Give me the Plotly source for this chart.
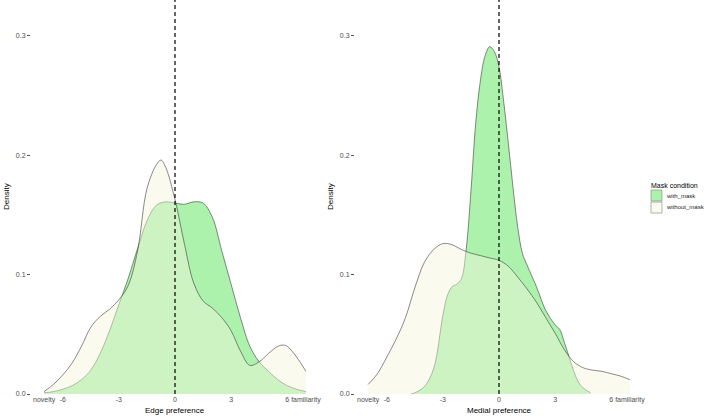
import plotly.graph_objects as go

# ---------------- data ----------------
edge_with_x = [-7, -6.5, -6, -5.5, -5, -4.5, -4, -3.5, -3, -2.5, -2, -1.5, -1, -0.5, 0, 0.5, 1, 1.5, 2, 2.5, 3, 3.5, 4, 4.5, 5, 5.5, 6, 6.5, 7]
edge_with_y = [0.001, 0.002, 0.004, 0.007, 0.012, 0.020, 0.034, 0.053, 0.075, 0.097, 0.122, 0.145, 0.158, 0.161, 0.160, 0.159, 0.161, 0.160, 0.148, 0.120, 0.092, 0.064, 0.040, 0.027, 0.019, 0.012, 0.007, 0.004, 0.002]

edge_without_x = [-7, -6.5, -6, -5.5, -5, -4.5, -4, -3.5, -3, -2.5, -2, -1.5, -1, -0.75, -0.5, 0, 0.5, 1, 1.5, 2, 2.5, 3, 3.5, 4, 4.5, 5, 5.5, 5.8, 6, 6.5, 7]
edge_without_y = [0.002, 0.008, 0.016, 0.026, 0.040, 0.056, 0.065, 0.071, 0.079, 0.091, 0.120, 0.172, 0.192, 0.196, 0.190, 0.163, 0.126, 0.093, 0.078, 0.072, 0.064, 0.053, 0.036, 0.024, 0.027, 0.034, 0.040, 0.041, 0.040, 0.031, 0.019]

medial_with_x = [-4.7, -4.5, -4, -3.5, -3, -2.75, -2.5, -2.25, -2, -1.75, -1.5, -1.25, -1, -0.75, -0.5, -0.25, 0, 0.25, 0.5, 0.75, 1, 1.25, 1.5, 2, 2.5, 3, 3.25, 3.5, 3.75, 4, 4.25, 4.5, 4.9]
medial_with_y = [0.0, 0.001, 0.006, 0.021, 0.066, 0.083, 0.090, 0.092, 0.097, 0.122, 0.170, 0.226, 0.262, 0.283, 0.291, 0.287, 0.274, 0.245, 0.210, 0.173, 0.140, 0.118, 0.108, 0.090, 0.070, 0.058, 0.054, 0.043, 0.031, 0.019, 0.010, 0.005, 0.001]

medial_without_x = [-7, -6.5, -6, -5.5, -5, -4.5, -4, -3.5, -3, -2.5, -2, -1.5, -1, -0.5, 0, 0.5, 1, 1.5, 2, 2.5, 3, 3.5, 4, 4.5, 5, 5.5, 6, 6.5, 7]
medial_without_y = [0.008, 0.017, 0.031, 0.046, 0.064, 0.089, 0.110, 0.121, 0.126, 0.125, 0.121, 0.118, 0.116, 0.114, 0.112, 0.107, 0.098, 0.088, 0.077, 0.064, 0.051, 0.037, 0.027, 0.022, 0.020, 0.019, 0.017, 0.015, 0.012]

x_tick_vals = [-7, -6, -3, 0, 3, 6, 7]
x_tick_text = ["novelty", "-6", "-3", "0", "3", "6", "familiarity"]
y_tick_vals = [0.0, 0.1, 0.2, 0.3]
y_tick_text = ["0.0", "0.1", "0.2", "0.3"]
panel_titles = ["Edge preference", "Medial preference"]
legend_title = "Mask condition"
legend_labels = ["with_mask", "without_mask"]

# ---------------- style ----------------
W, H = 708, 416
GREEN = "rgba(144,238,144,0.75)"
BEIGE = "rgba(245,245,220,0.45)"
LINE = "#3a3a3a"
FONT = "Liberation Sans, Arial, sans-serif"

fig = go.Figure()

def add_density(x, y, fill, xa, ya, name):
    fig.add_trace(go.Scatter(
        x=x, y=y, mode="lines", fill="tozeroy", fillcolor=fill,
        line=dict(color=LINE, width=0.6, shape="spline", smoothing=1.0),
        xaxis=xa, yaxis=ya, name=name, showlegend=False, hoverinfo="skip"))

add_density(edge_with_x, edge_with_y, GREEN, "x", "y", legend_labels[0])
add_density(edge_without_x, edge_without_y, BEIGE, "x", "y", legend_labels[1])
add_density(medial_with_x, medial_with_y, GREEN, "x2", "y2", legend_labels[0])
add_density(medial_without_x, medial_without_y, BEIGE, "x2", "y2", legend_labels[1])

y0_px = 394
ydom = [1 - y0_px / H, 1.0]
yrange = [0, 0.3 + 36 / 1195]

xaxis_common = dict(range=[-7.7, 7.7], tickvals=x_tick_vals, ticktext=x_tick_text,
                    tickangle=0,
                    showgrid=False, zeroline=False, showline=False,
                    ticks="", ticklen=0,
                    tickfont=dict(family=FONT, size=7, color="#4D4D4D"), automargin=False)
yaxis_common = dict(range=yrange, domain=ydom, tickvals=y_tick_vals, ticktext=y_tick_text,
                    showgrid=False, zeroline=False, showline=False,
                    ticks="outside", ticklen=3, tickcolor="#555", tickwidth=0.6,
                    tickfont=dict(family=FONT, size=7, color="#4D4D4D"), automargin=False)

fig.update_layout(
    width=W, height=H,
    margin=dict(l=0, r=0, t=0, b=0),
    paper_bgcolor="white", plot_bgcolor="white",
    font=dict(family=FONT),
    showlegend=False,
    xaxis=dict(domain=[31 / W, 319 / W], anchor="y", **xaxis_common),
    yaxis=dict(anchor="x", **yaxis_common),
    xaxis2=dict(domain=[355 / W, 643 / W], anchor="y2", **xaxis_common),
    yaxis2=dict(anchor="x2", **yaxis_common),
)

# dashed vertical reference lines at 0
for xr, yr in [("x", "y domain"), ("x2", "y2 domain")]:
    fig.add_shape(type="line", xref=xr, yref=yr, x0=0, x1=0, y0=0, y1=1,
                  line=dict(color="black", width=1.2, dash="4px,3px"))

# axis titles
for i, (cx, lx) in enumerate([(175, 6), (499, 330)]):
    fig.add_annotation(x=cx / W, y=1 - 410 / H, xref="paper", yref="paper",
                       text=panel_titles[i], showarrow=False,
                       font=dict(family=FONT, size=8, color="black"),
                       xanchor="center", yanchor="middle")
    fig.add_annotation(x=lx / W, y=1 - 197 / H, xref="paper", yref="paper",
                       text="Density", showarrow=False, textangle=-90,
                       font=dict(family=FONT, size=8, color="black"),
                       xanchor="center", yanchor="middle")

# legend (drawn manually)
fig.add_annotation(x=650 / W, y=1 - 185 / H, xref="paper", yref="paper",
                   text=legend_title, showarrow=False, borderpad=0,
                   font=dict(family=FONT, size=7, color="black"),
                   xanchor="left", yanchor="middle")
for i, (lab, col) in enumerate(zip(legend_labels, [GREEN, BEIGE])):
    top = 190 + i * 12
    fig.add_shape(type="rect", xref="paper", yref="paper",
                  x0=651 / W, x1=662 / W, y0=1 - (top + 11) / H, y1=1 - top / H,
                  fillcolor=col, line=dict(color="#808080", width=0.6))
    fig.add_annotation(x=665 / W, y=1 - (top + 5.5) / H, xref="paper", yref="paper",
                       text=lab, showarrow=False, borderpad=0,
                       font=dict(family=FONT, size=6, color="#222"),
                       xanchor="left", yanchor="middle")

fig.write_html("out.html", config={"displayModeBar": False})

# remove the default page margin so the figure sits at the window origin
with open("out.html", "r", encoding="utf-8") as f:
    html = f.read()
html = html.replace("<head>", "<head><style>html,body{margin:0;padding:0;overflow:hidden;}</style>", 1)
with open("out.html", "w", encoding="utf-8") as f:
    f.write(html)
